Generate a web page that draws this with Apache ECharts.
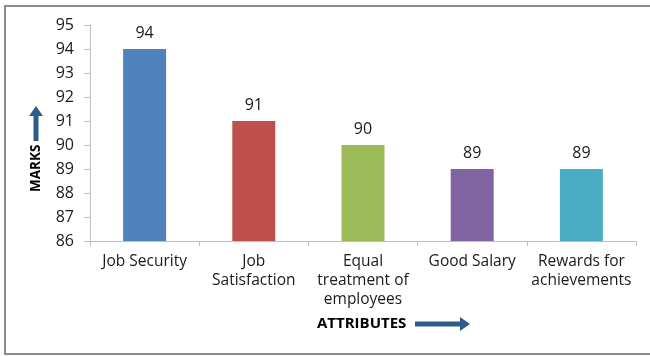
<!DOCTYPE html>
<html>
<head>
<meta charset="utf-8">
<script src="https://cdn.jsdelivr.net/npm/echarts@6/dist/echarts.min.js"></script>
<style>
  html, body { margin: 0; padding: 0; background: #fff; }
  #chart { width: 650px; height: 356px; }
</style>
</head>
<body>
<div id="chart"></div>
<script>
// Survey attributes and the marks each one scored
const categories = ['Job Security', 'Job\nSatisfaction', 'Equal\ntreatment of\nemployees', 'Good Salary', 'Rewards for\nachievements'];
const marks = [94, 91, 90, 89, 89];
const barColors = ['#4F81BD', '#C0504D', '#9BBB59', '#8064A2', '#4BACC6'];
const yTicks = { min: 86, max: 95, step: 1 };

const FONT = 'Open Sans';
const arrowColor = '#2E5C8A';

const chart = echarts.init(document.getElementById('chart'), null, { renderer: 'canvas' });

chart.setOption({
  animation: false,
  backgroundColor: '#ffffff',
  grid: { left: 90, right: 14, top: 25, bottom: 115, containLabel: false },
  xAxis: {
    type: 'category',
    data: categories,
    axisLine: { lineStyle: { color: '#BFBFBF', width: 1 } },
    axisTick: { show: true, alignWithLabel: false, length: 5, lineStyle: { color: '#BFBFBF' } },
    axisLabel: {
      color: '#1a1a1a', fontFamily: FONT, fontSize: 15.5, lineHeight: 19, margin: 11, interval: 0
    }
  },
  yAxis: {
    type: 'value',
    min: yTicks.min, max: yTicks.max, interval: yTicks.step,
    axisLine: { show: true, lineStyle: { color: '#BFBFBF', width: 1 } },
    axisTick: { show: true, length: 6, lineStyle: { color: '#BFBFBF' } },
    splitLine: { show: false },
    axisLabel: { color: '#1a1a1a', fontFamily: FONT, fontSize: 16, margin: 16 }
  },
  series: [{
    type: 'bar',
    data: marks.map((v, i) => ({ value: v, itemStyle: { color: barColors[i] } })),
    barWidth: 43,
    label: {
      show: true, position: 'top', distance: 8,
      color: '#1a1a1a', fontFamily: FONT, fontSize: 16
    }
  }],
  graphic: [
    // chart frame (left, top and bottom edges)
    { type: 'polyline', silent: true,
      shape: { points: [[652, 6], [5, 6], [5, 354], [652, 354]] },
      style: { stroke: '#8C8C8C', lineWidth: 2, fill: null } },
    // y-axis title with upward arrow
    { type: 'text', rotation: Math.PI / 2, x: 29, y: 192,
      style: { text: 'MARKS', font: 'bold 13.5px "' + FONT + '"', fill: '#000' } },
    { type: 'polygon', silent: true,
      shape: { points: [[33.5, 141], [33.5, 116], [29, 116], [36, 106], [43, 116], [38.5, 116], [38.5, 141]] },
      style: { fill: arrowColor } },
    // x-axis title with rightward arrow
    { type: 'text', x: 317, y: 316,
      style: { text: 'ATTRIBUTES', font: 'bold 15px "' + FONT + '"', fill: '#000' } },
    { type: 'polygon', silent: true,
      shape: { points: [[415, 321.5], [460, 321.5], [460, 317], [470, 324], [460, 331], [460, 326.5], [415, 326.5]] },
      style: { fill: arrowColor } }
  ]
});
</script>
</body>
</html>
